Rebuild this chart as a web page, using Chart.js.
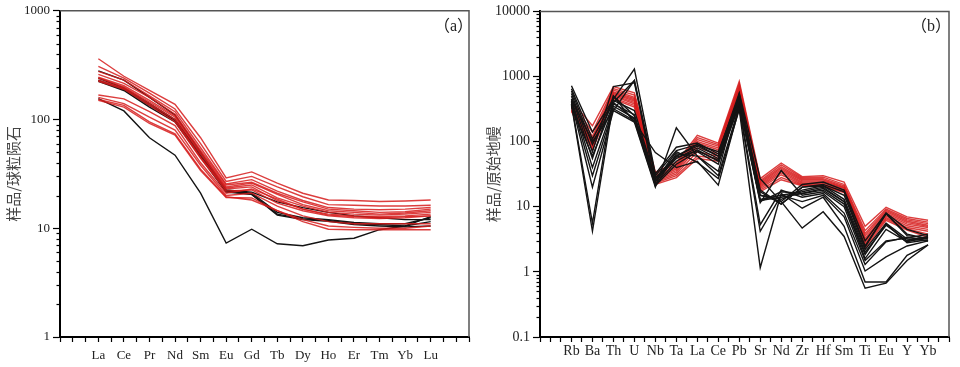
<!DOCTYPE html>
<html lang="zh">
<head>
<meta charset="UTF-8">
<title>REE and trace element patterns</title>
<script src="https://cdn.jsdelivr.net/npm/chart.js"></script>
<style>
  body { margin: 0; background: #fff; }
  .panel { position: absolute; top: 0; width: 480px; height: 367px; }
  .tag { position: absolute; top: 12px; font: 16px 'Liberation Serif', 'Noto Sans CJK SC', serif; color: #222; }
</style>
</head>
<body>

<div class="panel" style="left:0">
  <canvas id="reeChart" width="480" height="367"></canvas>
  <div class="tag" style="left:434px">（a）</div>
</div>
<div class="panel" style="left:480px">
  <canvas id="pmChart" width="480" height="367"></canvas>
  <div class="tag" style="left:431px">（b）</div>
</div>

<script>
// (a) chondrite-normalised REE
const reeLabels = ['La', 'Ce', 'Pr', 'Nd', 'Sm', 'Eu', 'Gd', 'Tb', 'Dy', 'Ho', 'Er', 'Tm', 'Yb', 'Lu'];
const reeRed = [
  [362, 250, 185, 138, 68, 29, 33, 26, 21, 18.2, 18, 17.6, 17.8, 18.2],
  [308, 240, 175, 125, 60, 27, 30, 24, 19.5, 16.5, 16.3, 16, 16, 16.3],
  [277, 230, 165, 118, 55, 25.5, 28, 22, 18, 15.5, 15, 14.8, 15, 15.5],
  [260, 215, 160, 112, 52, 25, 26.5, 21, 17.5, 15, 14.5, 14, 14.2, 15],
  [245, 205, 150, 108, 50, 24, 26, 20.5, 16.5, 14.5, 14, 13.5, 13.8, 14.5],
  [241, 200, 145, 105, 48, 23.5, 25, 19, 16, 14, 13.5, 13.2, 13.5, 14],
  [230, 195, 140, 100, 45, 23, 24, 18, 15, 13.5, 13, 12.8, 13, 13.5],
  [225, 190, 135, 95, 44, 22, 22.5, 17, 14.5, 13, 12.5, 12.3, 12.5, 13],
  [168, 155, 118, 88, 40, 21, 23, 18.5, 15, 13.2, 12.8, 12.5, 12.8, 13],
  [160, 140, 105, 80, 38, 20, 21, 16, 13, 11.5, 11, 11, 11, 11],
  [153, 135, 95, 74, 35, 19.5, 18.2, 14.5, 12, 10.5, 10.2, 10, 10, 10.5],
  [150, 130, 92, 72, 34, 19.2, 19, 14.5, 11.5, 9.8, 9.7, 9.7, 9.7, 9.7]
];
const reeBlack = [
  [280, 230, 160, 110, 50, 22.5, 21.5, 17.5, 15.5, 14, 13, 12.5, 12, 12],
  [240, 195, 140, 100, 48, 22, 21, 14, 12.5, 12, 11.3, 11, 11, 12.5],
  [230, 190, 135, 98, 46, 22, 20.5, 13.5, 12.2, 11.8, 11, 10.8, 10.5, 11.5],
  [225, 185, 130, 95, 45, 21.5, 20.5, 13.2, 12, 11.6, 10.8, 10.5, 10.3, 10.5],
  [156, 120, 68, 47, 21, 7.3, 9.8, 7.2, 6.9, 7.8, 8.1, 9.7, 10.5, 12.8]
];

// (b) primitive-mantle-normalised trace elements
const pmLabels = ['Rb', 'Ba', 'Th', 'U', 'Nb', 'Ta', 'La', 'Ce', 'Pb', 'Sr', 'Nd', 'Zr', 'Hf', 'Sm', 'Ti', 'Eu', 'Y', 'Yb'];
const pmRed = [
  [420, 175, 700, 560, 34, 48, 125, 95, 840, 27, 47, 29, 30, 24, 5.0, 9.8, 7.0, 6.2],
  [400, 140, 650, 520, 32, 45, 115, 90, 780, 25, 44, 28, 28.5, 22, 4.3, 9.2, 6.6, 5.8],
  [380, 120, 620, 480, 30, 42, 108, 85, 720, 24, 41, 27, 27, 21, 3.9, 8.8, 6.3, 5.5],
  [360, 110, 580, 460, 28, 40, 100, 80, 680, 23, 39, 26, 26, 20, 3.6, 8.4, 6.0, 5.2],
  [350, 100, 560, 440, 27, 38, 95, 75, 650, 22, 37, 25, 25, 19.5, 3.3, 8.0, 5.7, 5.0],
  [340, 95, 540, 420, 26, 36, 88, 70, 620, 21, 35, 24, 24, 19, 3.1, 7.6, 5.4, 4.8],
  [330, 90, 520, 400, 25, 34, 80, 65, 600, 20, 33, 23, 23, 18, 2.9, 7.2, 5.1, 4.5],
  [310, 85, 500, 380, 24, 32, 70, 60, 580, 19, 31, 22, 22, 17.5, 2.7, 6.8, 4.8, 4.2],
  [300, 80, 470, 360, 23, 30, 60, 55, 560, 18, 28, 21.5, 21, 17, 2.5, 6.5, 4.6, 3.8],
  [290, 75, 450, 340, 22, 28, 55, 50, 540, 17, 26, 21, 20.5, 16.5, 2.3, 6.2, 4.4, 3.4]
];
const pmBlack = [
  [720, 140, 450, 1300, 32, 82, 95, 65, 560, 27, 12, 22, 24, 18, 3.0, 8.0, 4.5, 3.6],
  [600, 90, 400, 870, 30, 73, 90, 70, 500, 18, 11, 20, 22, 17, 2.5, 7.8, 3.8, 3.2],
  [550, 70, 700, 800, 28, 60, 85, 60, 450, 15, 13, 18, 21, 13, 2.2, 5.6, 3.2, 3.0],
  [500, 55, 500, 250, 25, 55, 80, 55, 420, 13, 15, 17, 20, 12, 2.0, 5.2, 3.0, 3.5],
  [450, 40, 350, 230, 22, 50, 75, 50, 400, 12, 17, 16, 18, 11, 1.85, 5.5, 2.8, 3.1],
  [420, 30, 320, 210, 21, 45, 70, 45, 380, 11.5, 36, 15, 17, 10, 1.5, 3.0, 3.3, 3.8],
  [400, 20, 300, 200, 20, 163, 60, 30, 350, 5.3, 18, 14, 16, 8, 1.3, 2.9, 3.4, 3.0],
  [380, 5.6, 500, 200, 68, 40, 50, 21.5, 330, 4.2, 15, 12, 15, 7, 1.03, 1.7, 2.5, 3.0],
  [370, 4.2, 400, 220, 25, 70, 48, 27, 310, 1.16, 16, 9.5, 14, 5, 0.7, 0.7, 1.8, 2.6],
  [450, 100, 300, 870, 21, 65, 60, 35, 540, 15, 12, 4.7, 8.4, 3.5, 0.56, 0.67, 1.5, 2.6],
  [350, 60, 380, 260, 24, 60, 90, 60, 480, 17, 11, 20, 21, 15, 2.4, 7.9, 3.6, 3.3],
  [650, 110, 430, 300, 27, 58, 72, 52, 360, 12.5, 14, 16, 19, 12, 1.6, 4.5, 2.9, 3.4]
];

const RED = 'rgba(214, 28, 28, 0.85)';
const BLACK = '#141414';

function isPow10(v) {
  const l = Math.log10(v);
  return Math.abs(l - Math.round(l)) < 1e-9;
}

// top/right frame + short minor ticks on the log axis
const framePlugin = {
  id: 'frame',
  afterDraw(chart) {
    const { ctx, chartArea: a } = chart;
    const y = chart.scales.y;
    ctx.save();
    ctx.strokeStyle = '#555';
    ctx.lineWidth = 1.5;
    ctx.beginPath();
    ctx.moveTo(a.left, a.top);
    ctx.lineTo(a.right, a.top);
    ctx.lineTo(a.right, a.bottom);
    ctx.stroke();
    ctx.strokeStyle = '#000';
    ctx.lineWidth = 1.2;
    y.ticks.forEach(t => {
      if (isPow10(t.value)) return;
      const py = Math.round(y.getPixelForValue(t.value)) + 0.5;
      ctx.beginPath();
      ctx.moveTo(a.left - 3.5, py);
      ctx.lineTo(a.left, py);
      ctx.stroke();
    });
    ctx.restore();
  }
};

function makeChart(id, labels, reds, blacks, yMin, yMax, title, fontSize, labelPad, blackOnTop) {
  const toPts = row => row.map((v, i) => ({ x: i, y: v }));
  const redSets = reds.map(r => ({ data: toPts(r), borderColor: RED, borderWidth: 1.4 }));
  const blackSets = blacks.map(r => ({ data: toPts(r), borderColor: BLACK, borderWidth: 1.4 }));
  const datasets = blackOnTop ? redSets.concat(blackSets) : blackSets.concat(redSets);
  const xMax = labels.length - 1 + (labels.length > 14 ? 1 : 1.5);

  return new Chart(document.getElementById(id), {
    type: 'line',
    data: { datasets },
    plugins: [framePlugin],
    options: {
      responsive: false,
      animation: false,
      devicePixelRatio: 1,
      layout: { padding: { left: 0, top: 7, right: 11, bottom: 0 } },
      elements: { point: { radius: 0 }, line: { tension: 0 } },
      plugins: { legend: { display: false }, tooltip: { enabled: false } },
      scales: {
        x: {
          type: 'linear',
          min: -1.5,
          max: xMax,
          afterBuildTicks: s => {
            const t = [];
            for (let v = -1.5; v <= xMax + 1e-9; v += 0.5) t.push({ value: v });
            s.ticks = t;
          },
          afterFit: s => { s.height = 30; },
          border: { color: '#000', width: 2 },
          grid: { drawOnChartArea: false, tickLength: 5, tickWidth: 1.2, tickColor: '#000' },
          ticks: {
            autoSkip: false,
            maxRotation: 0,
            padding: labelPad,
            color: '#222',
            font: { family: "'Liberation Serif', serif", size: fontSize },
            callback: v => (Number.isInteger(v) && v >= 0 && v < labels.length) ? labels[v] : ''
          }
        },
        y: {
          type: 'logarithmic',
          min: yMin,
          max: yMax,
          afterBuildTicks: s => {
            const t = [];
            for (let e = Math.round(Math.log10(yMin)); e < Math.round(Math.log10(yMax)); e++) {
              for (let m = 1; m < 10; m++) t.push({ value: +(m * Math.pow(10, e)).toPrecision(3) });
            }
            t.push({ value: yMax });
            s.ticks = t;
          },
          afterFit: s => { s.width = 60; },
          border: { color: '#000', width: 2 },
          grid: {
            drawOnChartArea: false,
            tickLength: 7,
            tickWidth: 1.2,
            tickColor: c => (c.tick && isPow10(c.tick.value)) ? '#000' : 'rgba(0,0,0,0)'
          },
          title: {
            display: true,
            text: title,
            color: '#444',
            padding: { top: 4, bottom: 0 },
            font: { family: "'Noto Sans CJK SC', sans-serif", size: 15 }
          },
          ticks: {
            autoSkip: false,
            padding: 3,
            color: '#222',
            font: { family: "'Liberation Serif', serif", size: fontSize },
            callback: v => isPow10(v) ? String(v) : ''
          }
        }
      }
    }
  });
}

makeChart('reeChart', reeLabels, reeRed, reeBlack, 1, 1000, '样品/球粒陨石', 13, 6, true);
makeChart('pmChart', pmLabels, pmRed, pmBlack, 0.1, 10000, '样品/原始地幔', 14, 1, false);
</script>
</body>
</html>
